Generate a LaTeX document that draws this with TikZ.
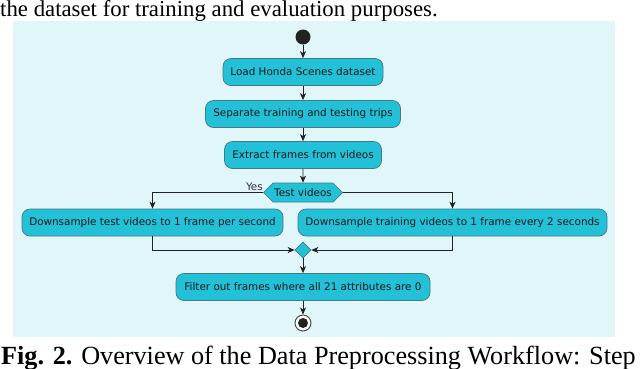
\documentclass[tikz,border=0pt]{standalone}
\usepackage{fontspec}
\setmainfont{Liberation Serif}
\newfontfamily\umlfont{DejaVu Sans}
\usetikzlibrary{arrows.meta,shapes.geometric,shapes.symbols}

\definecolor{bgcyan}{RGB}{224,246,249}
\definecolor{actfill}{RGB}{34,193,216}
\definecolor{actline}{RGB}{70,120,130}
\definecolor{flowline}{RGB}{34,34,34}

\tikzset{
	action/.style={draw=actline, fill=actfill, rounded corners=8pt, line width=0.7pt, minimum height=27pt, inner xsep=6pt, font=\umlfont\fontsize{10.4}{12}\selectfont, text=black!90},
	decision/.style={signal, signal to=west and east, draw=actline, fill=actfill, line width=0.7pt, minimum height=19pt, minimum width=79pt, inner sep=1pt, font=\umlfont\fontsize{10.4}{12}\selectfont, text=black!90},
	merge/.style={diamond, draw=actline, fill=actfill, line width=0.7pt, minimum width=16pt, minimum height=16pt, inner sep=0pt},
	startdot/.style={circle, fill=flowline, minimum size=15pt, inner sep=0pt},
	stopring/.style={circle, draw=flowline!80, fill=white, line width=1pt, minimum size=16pt, inner sep=0pt},
	flow/.style={draw=flowline, line width=0.8pt, -{Stealth[length=7pt,width=6pt,inset=2pt]}},
}

\begin{document}
\begin{tikzpicture}[x=1pt,y=1pt,yscale=-1]
	\clip (0,0) rectangle (640,368);
	\useasboundingbox (0,0) rectangle (640,368);
	
	% Text Node
	\node[anchor=base west, inner sep=0pt, font=\fontsize{22.8}{26}\selectfont] (above) at (0,16) {the dataset for training and evaluation purposes.};
	
	%Shape: Rectangle
	\fill[bgcyan] (13,21) rectangle (615,337);
	
	%Shape: Start
	\node[startdot] (start) at (303,37) {};
	% Actions
	\node[action, minimum width=160pt] (load) at (303,72) {Load Honda Scenes dataset};
	\node[action, minimum width=195pt] (split) at (303,114) {Separate training and testing trips};
	\node[action, minimum width=157pt] (frames) at (303,155) {Extract frames from videos};
	%Shape: Hexagon
	\node[decision] (test) at (303,192.5) {Test videos};
	\node[action, minimum width=261pt] (testds) at (152.5,222.5) {Downsample test videos to 1 frame per second};
	\node[action, minimum width=309pt] (trainds) at (452.5,222.5) {Downsample training videos to 1 frame every 2 seconds};
	%Shape: Diamond
	\node[merge] (merge) at (303,250) {};
	\node[action, minimum width=254pt] (filter) at (303,287) {Filter out frames where all 21 attributes are 0};
	%Shape: Stop
	\node[stopring] (stop) at (303,323) {};
	\fill[flowline] (stop.center) circle (5);
	
	% Text Node
	\node[anchor=base east, inner sep=0pt, font=\umlfont\fontsize{10.4}{12}\selectfont, text=black!80] (yes) at (263,190) {Yes};
	
	% Connectors
	\draw[flow] (start) -- (load);
	\draw[flow] (load) -- (split);
	\draw[flow] (split) -- (frames);
	\draw[flow] (frames) -- (test);
	\draw[flow] (test.west) -| (testds.north);
	\draw[flow] (test.east) -| (trainds.north);
	\draw[flow] (testds.south) |- (merge.west);
	\draw[flow] (trainds.south) |- (merge.east);
	\draw[flow] (merge) -- (filter);
	\draw[flow] (filter) -- (stop);
	
	% Text Node
	\node[anchor=base west, inner sep=0pt, font=\fontsize{26.2}{30}\selectfont] (caption) at (1,364) {\textbf{Fig. 2.} Overview of the Data Preprocessing Workflow: Step};
	
\end{tikzpicture}
\end{document}
